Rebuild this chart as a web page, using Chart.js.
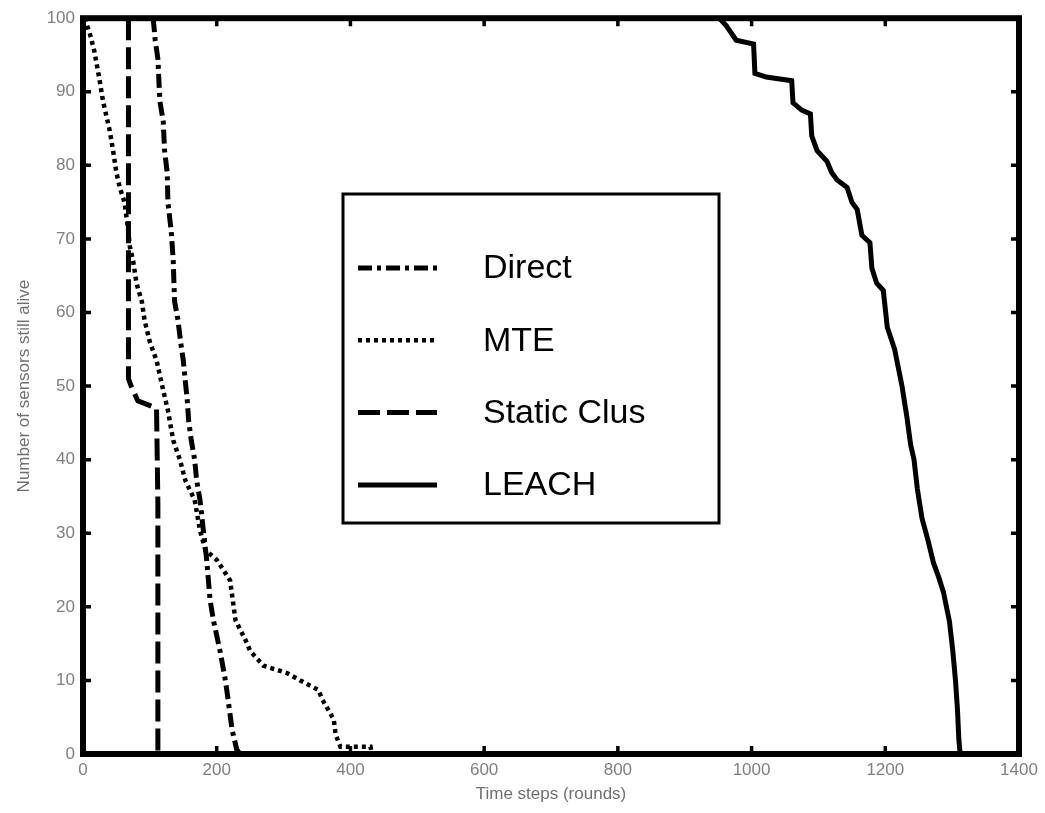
<!DOCTYPE html>
<html>
<head>
<meta charset="utf-8">
<title>Number of sensors still alive</title>
<script src="https://cdn.jsdelivr.net/npm/chart.js@4.4.1/dist/chart.umd.min.js"></script>
<style>
  html, body { margin: 0; padding: 0; background: #fff; }
  #wrap { position: relative; width: 1045px; height: 813px; }
</style>
</head>
<body>
<div id="wrap"><canvas id="lifeChart" width="1045" height="813"></canvas></div>
<script>
// 图例名称
const seriesNames = ['Direct', 'MTE', 'Static Clus', 'LEACH'];

// Direct (点划线)
const directX = [105, 108, 112, 115, 120, 122, 126, 127, 132, 135, 136, 137, 142, 146, 150, 153, 156, 158, 162, 167, 170, 175, 180, 185, 190, 195, 205, 213, 217, 223, 230, 235, 1400];
const directY = [100, 97, 94.5, 88.7, 86, 82, 79, 75, 71, 67, 64, 61.5, 59, 56, 53.5, 50.7, 48, 45.3, 42.6, 40, 37.2, 34.5, 30.4, 26.4, 21, 18.2, 14, 10, 7.4, 3.3, 0.6, 0, 0];

// MTE (点线)
const mteX = [2, 10, 17, 25, 30, 35, 40, 45, 50, 55, 62, 67, 70, 75, 80, 88, 92, 100, 110, 120, 127, 135, 145, 153, 167, 175, 183, 200, 220, 228, 243, 250, 270, 305, 325, 352, 358, 375, 378, 385, 430, 432, 1400];
const mteY = [100, 98, 95.5, 91.5, 88.7, 86.7, 84.7, 82, 79, 77, 75, 71.7, 69, 67, 64, 61.5, 59, 56, 53.5, 49.4, 46.7, 42.6, 40, 37.2, 34.5, 30.4, 27.7, 26.4, 23.6, 18.2, 15.5, 14, 12, 11, 10, 8.7, 7.4, 4.7, 2.6, 1, 1, 0, 0];

// Static Clus (虚线)
const staticX = [68, 68, 72, 82, 110, 112, 112, 1400];
const staticY = [100, 51, 50, 48, 47, 34, 0, 0];

// LEACH (实线)
const leachX = [952, 962, 977, 1003, 1005, 1022, 1060, 1062, 1075, 1088, 1090, 1098, 1113, 1120, 1128, 1143, 1150, 1158, 1165, 1177, 1180, 1187, 1197, 1203, 1214, 1225, 1232, 1238, 1243, 1248, 1255, 1264, 1272, 1280, 1287, 1296, 1301, 1305, 1308, 1310, 1312, 1400];
const leachY = [100, 99, 97, 96.5, 92.5, 92, 91.5, 88.5, 87.5, 87, 84, 82, 80.5, 79, 78, 77, 75, 74, 70.5, 69.5, 66, 64, 63, 58, 55, 50, 46, 42, 40, 36, 32, 29, 26, 24, 22, 18, 14, 10, 6, 2, 0, 0];

// 坐标轴
const xMin = 0, xMax = 1400, xStep = 200;
const yMin = 0, yMax = 100, yStep = 10;
const xTitle = 'Time steps (rounds)';
const yTitle = 'Number of sensors still alive';

function toPoints(xs, ys) {
    return xs.map(function(x, i) { return { x: x, y: ys[i] }; });
}

const styles = [
    { dash: [14, 5, 4, 5], width: 5 },
    { dash: [4, 4], width: 4.5 },
    { dash: [22, 7], width: 5 },
    { dash: [], width: 5 }
];
const allData = [
    toPoints(directX, directY),
    toPoints(mteX, mteY),
    toPoints(staticX, staticY),
    toPoints(leachX, leachY)
];

// 边框、内向刻度和图例
const framePlugin = {
    id: 'frame',
    afterDatasetsDraw(chart) {
        const ctx = chart.ctx;
        const a = chart.chartArea;
        const xs = chart.scales.x, ys = chart.scales.y;
        ctx.save();
        ctx.strokeStyle = '#000';
        ctx.lineWidth = 6;
        ctx.strokeRect(a.left, a.top, a.right - a.left, a.bottom - a.top);
        ctx.lineWidth = 3.5;
        ctx.beginPath();
        xs.ticks.forEach(function(t) {
            const px = xs.getPixelForValue(t.value);
            ctx.moveTo(px, a.bottom); ctx.lineTo(px, a.bottom - 8);
            ctx.moveTo(px, a.top); ctx.lineTo(px, a.top + 8);
        });
        ys.ticks.forEach(function(t) {
            const py = ys.getPixelForValue(t.value);
            ctx.moveTo(a.left, py); ctx.lineTo(a.left + 8, py);
            ctx.moveTo(a.right, py); ctx.lineTo(a.right - 8, py);
        });
        ctx.stroke();

        // 图例框
        const bx = 343, by = 194, bw = 376, bh = 329;
        ctx.fillStyle = '#fff';
        ctx.fillRect(bx, by, bw, bh);
        ctx.lineWidth = 3;
        ctx.strokeRect(bx, by, bw, bh);
        ctx.font = '34px "Liberation Sans", Arial, sans-serif';
        ctx.textBaseline = 'middle';
        ctx.fillStyle = '#000';
        chart.data.datasets.forEach(function(ds, i) {
            const cy = 268 + i * 72.3;
            ctx.beginPath();
            ctx.lineWidth = ds.borderWidth;
            ctx.setLineDash(ds.borderDash);
            ctx.moveTo(358, cy);
            ctx.lineTo(437, cy);
            ctx.stroke();
            ctx.setLineDash([]);
            ctx.fillText(ds.label, 483, cy + 1);
        });
        ctx.restore();
    }
};

const chart = new Chart(document.getElementById('lifeChart').getContext('2d'), {
    type: 'line',
    data: {
        datasets: seriesNames.map(function(name, i) {
            return {
                label: name,
                data: allData[i],
                borderColor: '#000',
                borderWidth: styles[i].width,
                borderDash: styles[i].dash,
                pointRadius: 0,
                tension: 0,
                fill: false
            };
        })
    },
    options: {
        responsive: false,
        animation: false,
        layout: { padding: { top: 16, right: 26, left: 0, bottom: 0 } },
        plugins: { legend: { display: false }, tooltip: { enabled: false } },
        scales: {
            x: {
                type: 'linear',
                min: xMin, max: xMax,
                ticks: { stepSize: xStep, color: '#808080', padding: 6,
                         callback: function(value) { return String(value); },
                         font: { family: '"Liberation Sans", Arial, sans-serif', size: 17 } },
                grid: { display: false, drawTicks: false },
                border: { display: false },
                title: { display: true, text: xTitle, color: '#707070', padding: { top: 0, bottom: 8 },
                         font: { family: '"Liberation Sans", Arial, sans-serif', size: 17 } },
                afterFit: function(scale) { scale.height = 59; }
            },
            y: {
                type: 'linear',
                min: yMin, max: yMax,
                ticks: { stepSize: yStep, color: '#808080', padding: 8,
                         callback: function(value) { return String(value); },
                         font: { family: '"Liberation Sans", Arial, sans-serif', size: 17 } },
                grid: { display: false, drawTicks: false },
                border: { display: false },
                title: { display: true, text: yTitle, color: '#707070', padding: { top: 14, bottom: 0 },
                         font: { family: '"Liberation Sans", Arial, sans-serif', size: 17 } },
                afterFit: function(scale) { scale.width = 83; }
            }
        }
    },
    plugins: [framePlugin]
});
</script>
</body>
</html>
